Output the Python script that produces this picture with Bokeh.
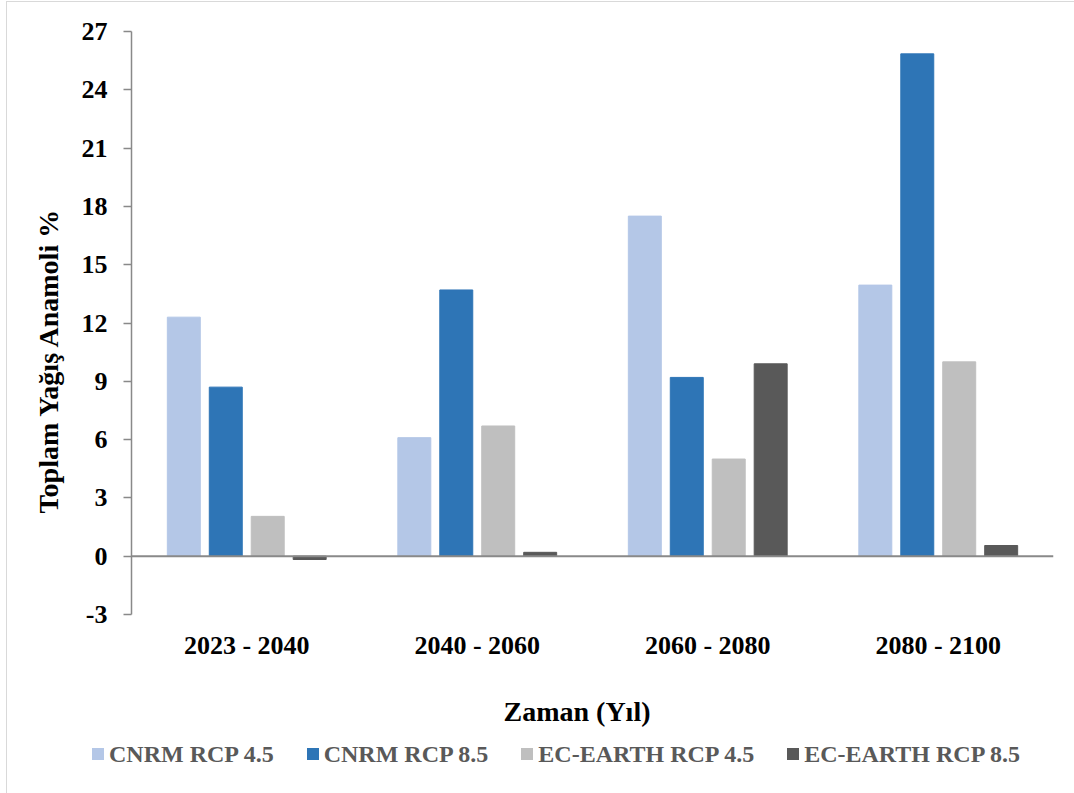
from bokeh.plotting import figure
from bokeh.layouts import column
from bokeh.models import (FactorRange, Range1d, FixedTicker, Span, Div,
                          ColumnDataSource, Title)
from bokeh.transform import dodge
from bokeh.embed import file_html
from bokeh.resources import INLINE

categories = ["2023 - 2040", "2040 - 2060", "2060 - 2080", "2080 - 2100"]
cnrm_rcp45 = [12.3, 6.1, 17.5, 13.95]
cnrm_rcp85 = [8.7, 13.7, 9.2, 25.85]
ecearth_rcp45 = [2.05, 6.7, 5.0, 10.0]
ecearth_rcp85 = [-0.17, 0.2, 9.9, 0.55]
series_names = ["CNRM RCP 4.5", "CNRM RCP 8.5", "EC-EARTH RCP 4.5", "EC-EARTH RCP 8.5"]
y_ticks = [-3, 0, 3, 6, 9, 12, 15, 18, 21, 24, 27]
y_tick_labels = ["-3", "0", "3", "6", "9", "12", "15", "18", "21", "24", "27"]
y_title = "Toplam Yağış Anamoli %"
x_title = "Zaman (Yıl)"

colors = ["#B4C7E7", "#2E75B6", "#BFBFBF", "#595959"]
FONT = "Liberation Serif"

src = ColumnDataSource(dict(cat=categories, s0=cnrm_rcp45, s1=cnrm_rcp85,
                            s2=ecearth_rcp45, s3=ecearth_rcp85))

p = figure(x_range=FactorRange(*categories), y_range=Range1d(-3, 27),
           width=1067, height=755, output_backend="svg", toolbar_location=None,
           min_border_left=124, min_border_right=21, min_border_top=29, min_border_bottom=143)
p.outline_line_color = None
p.xgrid.grid_line_color = None
p.ygrid.grid_line_color = None
p.background_fill_color = "white"
p.border_fill_color = "white"

offsets = [-0.273, -0.091, 0.091, 0.273]
for i, off in enumerate(offsets):
    p.vbar(x=dodge("cat", off, range=p.x_range), top="s%d" % i, bottom=0, width=0.143,
           source=src, fill_color=colors[i], line_color=colors[i], line_width=1)

p.add_layout(Span(location=0, dimension="width", line_color="#898989", line_width=2))

# y axis
ya = p.yaxis[0]
ya.ticker = FixedTicker(ticks=y_ticks)
ya.major_label_overrides = {t: l for t, l in zip(y_ticks, y_tick_labels)}
ya.minor_tick_line_color = None
ya.axis_line_color = "#898989"
ya.axis_line_width = 1.5
ya.major_tick_line_color = "#898989"
ya.major_tick_line_width = 1.5
ya.major_tick_out = 8
ya.major_tick_in = 0
ya.major_label_standoff = 16
ya.major_label_text_font = FONT
ya.major_label_text_font_style = "bold"
ya.major_label_text_font_size = "26px"
ya.major_label_text_color = "black"

# x axis
xa = p.xaxis[0]
xa.axis_line_color = None
xa.major_tick_line_color = None
xa.minor_tick_line_color = None
xa.major_label_standoff = 10
xa.major_label_text_font = FONT
xa.major_label_text_font_style = "bold"
xa.major_label_text_font_size = "26px"
xa.major_label_text_color = "black"

p.add_layout(Title(text=y_title, align="left", offset=101, standoff=30,
                   text_font=FONT, text_font_style="bold", text_font_size="28px",
                   text_color="black"), "left")
p.add_layout(Title(text=x_title, align="left", offset=372, standoff=62,
                   text_font=FONT, text_font_style="bold", text_font_size="28px",
                   text_color="black"), "below")

# legend as an HTML strip below the chart
items_html = "".join(
    '<span style="display:inline-flex;align-items:center;margin-right:33px;white-space:nowrap;">'
    '<span style="display:inline-block;width:12px;height:12px;background:%s;margin-right:5px;"></span>%s</span>'
    % (c, n) for c, n in zip(colors, series_names))
legend_html = ('<div style="display:flex;align-items:center;height:28px;padding-top:2px;'
               'padding-left:80px;font-family:\'Liberation Serif\',serif;font-weight:bold;'
               'font-size:24px;color:#595959;line-height:28px;white-space:nowrap;">%s</div>' % items_html)
legend_div = Div(text=legend_html, width=1067, height=52, styles={"margin-top": "-18px"})

layout = column(p, legend_div, spacing=0,
                styles={"border-left": "1px solid #D9D9D9", "border-top": "1px solid #D9D9D9",
                        "border-bottom": "1px solid #D9D9D9", "margin-left": "6px",
                        "margin-top": "1px"})

open("out.html", "w").write(file_html(layout, INLINE))
